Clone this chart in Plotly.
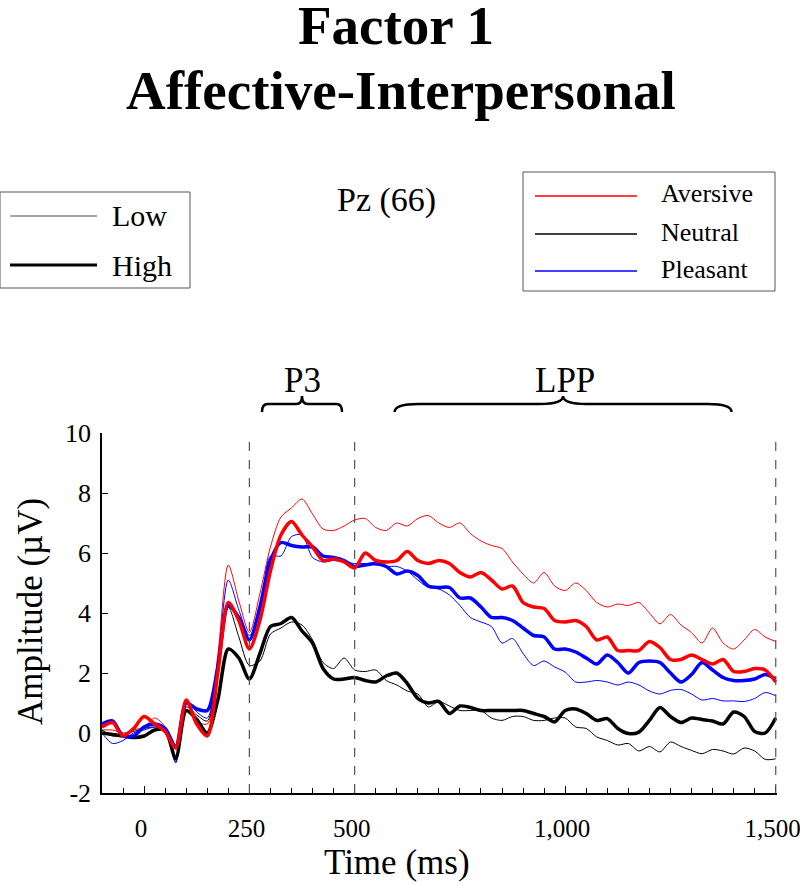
import plotly.graph_objects as go

# ---------------- data ----------------
time_ms = list(range(-100, 1501, 25))

aversive_low = [0.1, 0.1, 0.0, 0.1, 0.2, 0.5, 0.2, -0.9, 1.0, 0.4, 0.3, 2.6, 5.6, 4.4, 3.35,
                4.65, 6.2, 7.2, 7.5, 7.8, 7.3, 6.8, 6.75, 6.9, 7.1, 7.15, 6.85, 6.75, 7.0, 6.9,
                7.15, 7.25, 7.0, 6.85, 7.0, 6.65, 6.4, 6.25, 6.15, 5.7, 5.3, 5.0, 5.35, 4.9,
                4.75, 5.0, 4.75, 4.35, 4.2, 4.3, 4.25, 4.35, 4.0, 3.64, 3.95, 3.6, 3.35, 3.0,
                3.5, 3.0, 2.8, 3.1, 3.45, 3.2, 3.05]
aversive_high = [0.2, 0.35, -0.1, 0.15, 0.55, 0.3, 0.05, -0.5, 1.1, 0.3, -0.1, 2.0, 4.35, 3.75, 2.8,
                 3.75, 5.4, 6.6, 7.05, 6.6, 6.2, 5.75, 5.8, 5.7, 5.5, 6.0, 5.75, 5.7, 5.75, 6.05,
                 5.75, 5.65, 5.75, 5.65, 5.35, 5.2, 5.35, 5.1, 4.8, 4.9, 4.35, 4.2, 4.15, 3.75,
                 3.7, 3.75, 3.55, 3.1, 3.2, 2.75, 2.75, 2.75, 3.05, 2.85, 2.45, 2.45, 2.6, 2.45,
                 2.3, 2.45, 2.05, 2.05, 2.15, 2.1, 1.7]
neutral_low = [0.1, -0.1, -0.05, 0.05, 0.15, 0.2, 0.15, -0.95, 0.87, 0.6, 0.4, 2.2, 4.2, 3.2, 2.25,
               2.4, 3.3, 3.5, 3.7, 3.6, 3.1, 2.35, 2.15, 2.5, 2.1, 2.05, 2.1, 1.75, 1.6, 1.4,
               1.3, 0.87, 1.05, 0.9, 0.75, 0.75, 0.75, 0.5, 0.42, 0.55, 0.55, 0.42, 0.42, 0.5,
               0.5, 0.2, 0.15, -0.13, -0.25, -0.4, -0.35, -0.6, -0.45, -0.63, -0.3, -0.45, -0.58,
               -0.69, -0.55, -0.6, -0.7, -0.5, -0.6, -0.88, -0.86]
neutral_high = [0.0, -0.05, -0.1, -0.15, -0.1, 0.1, 0.1, -0.85, 0.75, 0.45, 0.0, 1.1, 2.8, 2.5, 1.8,
                2.65, 3.55, 3.65, 3.85, 3.4, 3.0, 2.15, 1.8, 1.8, 1.85, 1.75, 1.7, 1.9, 2.0, 1.65,
                1.15, 1.0, 1.05, 0.65, 0.9, 0.85, 0.75, 0.75, 0.75, 0.75, 0.75, 0.65, 0.55, 0.37,
                0.75, 0.8, 0.65, 0.42, 0.48, 0.15, -0.02, 0.03, 0.42, 0.85, 0.55, 0.35, 0.5, 0.45,
                0.4, 0.3, 0.7, 0.55, 0.05, 0.0, 0.5]
pleasant_low = [0.0, -0.35, -0.25, 0.0, 0.1, 0.2, 0.15, -1.0, 1.1, 0.7, 0.5, 2.4, 5.1, 4.1, 3.25,
                4.0, 5.9, 5.9, 6.55, 6.6, 5.85, 5.7, 5.75, 5.7, 5.65, 5.65, 5.6, 5.55, 5.55, 5.4,
                5.1, 4.85, 4.8, 4.6, 4.25, 3.85, 3.7, 3.55, 3.0, 3.15, 2.65, 2.25, 2.4, 2.2,
                2.03, 1.7, 1.7, 1.75, 1.7, 1.6, 1.7, 1.6, 1.4, 1.3, 1.42, 1.45, 1.3, 1.1,
                1.15, 1.07, 1.07, 1.05, 1.15, 1.35, 1.24]
pleasant_high = [0.3, 0.4, -0.1, -0.1, 0.2, 0.3, 0.15, -0.45, 1.0, 0.8, 0.75, 2.2, 4.25, 3.85, 3.1,
                 4.2, 5.75, 6.35, 6.25, 6.2, 6.2, 5.9, 5.85, 5.75, 5.55, 5.6, 5.65, 5.55, 5.3, 5.4,
                 5.25, 4.9, 4.85, 4.85, 4.5, 4.5, 4.2, 3.85, 3.85, 3.75, 3.5, 3.25, 3.2, 2.8,
                 2.8, 2.7, 2.5, 2.3, 2.6, 2.35, 2.0, 2.35, 2.4, 2.35, 2.0, 1.7, 1.95, 2.35,
                 2.1, 1.85, 1.75, 1.75, 1.8, 1.95, 1.8]

x_tick_vals = [0, 250, 500, 1000, 1500]
x_tick_text = ["0", "250", "500", "1,000", "1,500"]
y_tick_vals = [-2, 0, 2, 4, 6, 8, 10]
y_tick_text = ["-2", "0", "2", "4", "6", "8", "10"]
marker_times = [250, 500, 1500]
p3_window = [280, 470]
lpp_window = [595, 1395]

SERIF = "Liberation Serif, Times New Roman, serif"
RED, BLACK, BLUE = "#ff0000", "#000000", "#0000ff"

# layout geometry helpers (pixel -> paper)
L, R, T, B, W, H = 102, 23, 433, 93, 800, 886
PW, PH = W - L - R, H - T - B
def pxx(x):
    return (x - L) / PW
def pxy(y):
    return (H - B - y) / PH

fig = go.Figure()

series = [
    (aversive_low, RED, 1.0), (neutral_low, BLACK, 1.0), (pleasant_low, BLUE, 1.0),
    (neutral_high, BLACK, 3.5), (pleasant_high, BLUE, 3.5), (aversive_high, RED, 3.5),
]
for vals, col, w in series:
    fig.add_trace(go.Scatter(x=time_ms, y=vals, mode="lines",
                             line=dict(color=col, width=w, shape="spline", smoothing=0.8),
                             showlegend=False, hoverinfo="skip"))

shapes = []
for t in marker_times:
    shapes.append(dict(type="line", xref="x", yref="y", x0=t, x1=t, y0=-2, y1=10,
                       line=dict(color="#555555", width=1.2, dash="dash"), layer="above"))

# braces (x in data, y in paper)
y_end, y_mid, y_tip = pxy(412), pxy(404), pxy(396)
def brace(x0, x1):
    xc = (x0 + x1) / 2
    d = (x1 - x0) * 0.07
    return (f"M {x0},{y_end} Q {x0},{y_mid} {x0 + d},{y_mid} L {xc - d},{y_mid} "
            f"Q {xc},{y_mid} {xc},{y_tip} Q {xc},{y_mid} {xc + d},{y_mid} "
            f"L {x1 - d},{y_mid} Q {x1},{y_mid} {x1},{y_end}")
for win in (p3_window, lpp_window):
    shapes.append(dict(type="path", xref="x", yref="paper", path=brace(*win),
                       line=dict(color="black", width=2.5)))

# legend boxes
shapes.append(dict(type="rect", xref="paper", yref="paper", x0=pxx(0), x1=pxx(190),
                   y0=pxy(288), y1=pxy(192), line=dict(color="#555555", width=1)))
shapes.append(dict(type="rect", xref="paper", yref="paper", x0=pxx(523), x1=pxx(775),
                   y0=pxy(291), y1=pxy(172), line=dict(color="#555555", width=1)))
legend_left = [("Low", "#888888", 1.3, 216), ("High", "#000000", 3, 265)]
legend_right = [("Aversive", RED, 1.5, 196), ("Neutral", BLACK, 1.5, 234), ("Pleasant", BLUE, 1.5, 271)]
annotations = []
for name, col, w, y in legend_left:
    shapes.append(dict(type="line", xref="paper", yref="paper", x0=pxx(10), x1=pxx(97),
                       y0=pxy(y), y1=pxy(y), line=dict(color=col, width=w)))
    annotations.append(dict(text=name, xref="paper", yref="paper", x=pxx(110), y=pxy(y),
                            xanchor="left", yanchor="middle", showarrow=False,
                            font=dict(family=SERIF, size=30, color="black")))
for name, col, w, y in legend_right:
    shapes.append(dict(type="line", xref="paper", yref="paper", x0=pxx(535), x1=pxx(637),
                       y0=pxy(y), y1=pxy(y), line=dict(color=col, width=w)))
    annotations.append(dict(text=name, xref="paper", yref="paper", x=pxx(659), y=pxy(y - 2),
                            xanchor="left", yanchor="middle", showarrow=False,
                            font=dict(family=SERIF, size=26, color="black")))

def text(s, x, y, size, angle=0, bold=False):
    annotations.append(dict(text=f"<b>{s}</b>" if bold else s, xref="paper", yref="paper",
                            x=pxx(x), y=pxy(y), xanchor="center", yanchor="middle",
                            showarrow=False, textangle=angle,
                            font=dict(family=SERIF, size=size, color="black")))

text("Factor 1", 396, 25, 55, bold=True)
text("Affective-Interpersonal", 401, 90, 55, bold=True)
text("Pz (66)", 386, 200, 34)
text("P3", 302, 380, 35)
text("LPP", 565, 380, 35)
text("Time (ms)", 397, 862, 35)
text("Amplitude (µV)", 30, 612, 35, angle=-90)

fig.update_layout(
    width=W, height=H, margin=dict(l=L, r=R, t=T, b=B, pad=0, autoexpand=False),
    plot_bgcolor="white", paper_bgcolor="white",
    shapes=shapes, annotations=annotations, showlegend=False,
    font=dict(family=SERIF, color="black"),
    xaxis=dict(range=[-100, 1503], showgrid=False, zeroline=False, showline=True,
               automargin=False,
               linecolor="black", linewidth=1.5, ticks="inside", ticklen=7, tickwidth=1.2,
               tickcolor="black", tickvals=x_tick_vals, ticktext=x_tick_text,
               tickfont=dict(family=SERIF, size=25, color="black"), ticklabelstandoff=12,
               ticklabelshift=-3, ticklabeloverflow="allow",
               minor=dict(ticks="inside", ticklen=5, tickwidth=1, dtick=50, tick0=0,
                          tickcolor="black", showgrid=False)),
    yaxis=dict(range=[-2, 10], showgrid=False, zeroline=False, showline=True,
               automargin=False,
               linecolor="black", linewidth=1.5, ticks="inside", ticklen=6, tickwidth=1.2,
               tickcolor="black", tickvals=y_tick_vals, ticktext=y_tick_text,
               tickfont=dict(family=SERIF, size=26, color="black"), ticklabelstandoff=4,
               ticklabeloverflow="allow"),
)

fig.write_html("out.html", config={"displayModeBar": False},
               post_script="document.body.style.margin='0';document.body.style.overflow='hidden';")
